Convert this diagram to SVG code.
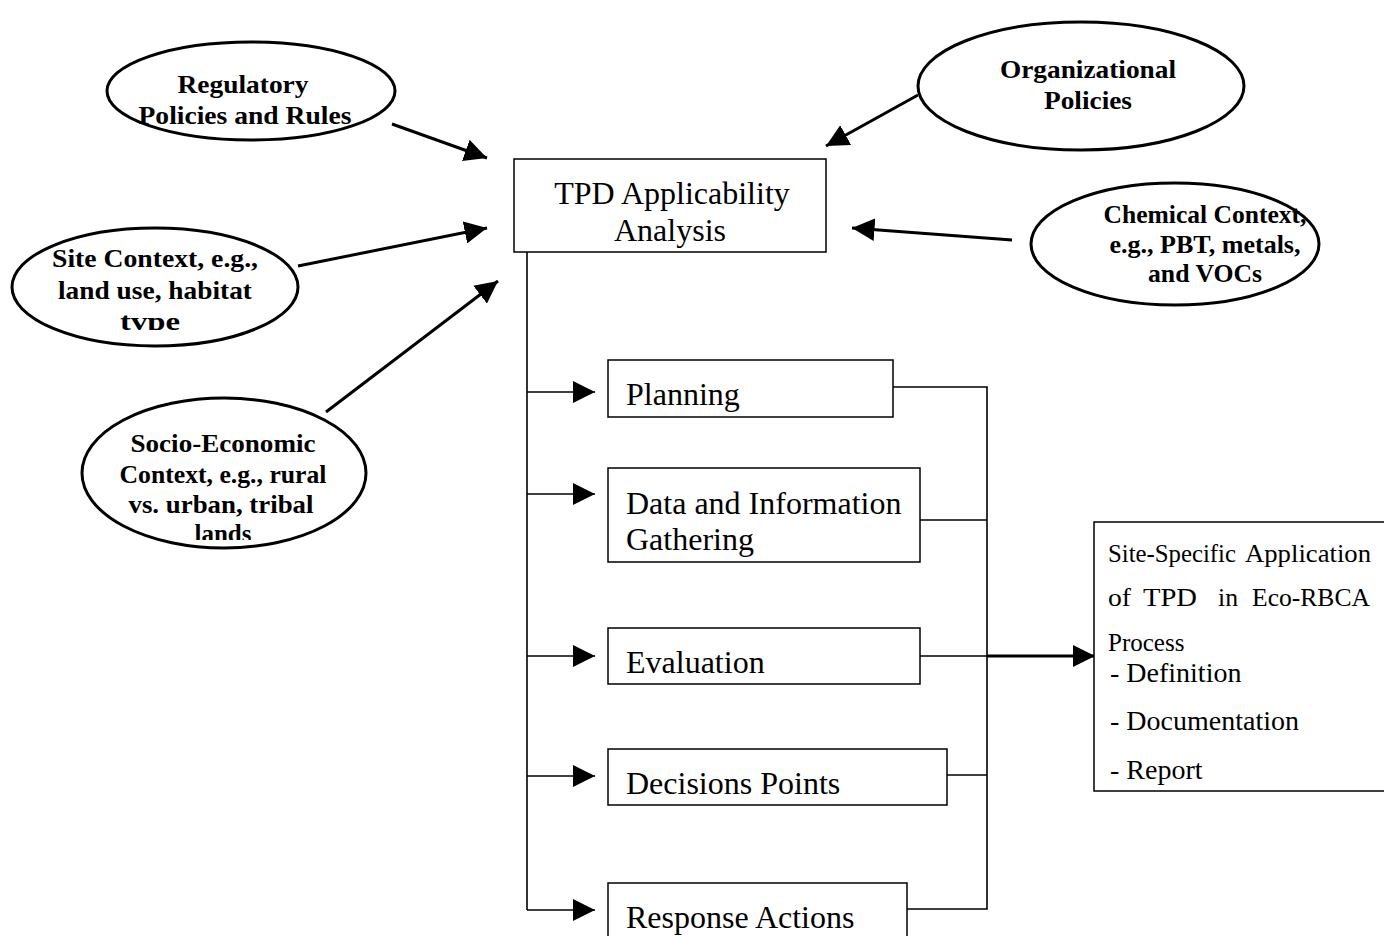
<svg xmlns="http://www.w3.org/2000/svg" width="1384" height="936" viewBox="0 0 1384 936">
<style>
.bg{fill:#fff}
.ell{fill:#fff;stroke:#000;stroke-width:3}
.box{fill:#fff;stroke:#000;stroke-width:1.5}
.bt{font-family:"Liberation Serif",serif;font-weight:bold;font-size:26px;fill:#000;text-anchor:middle}
.nt{font-family:"Liberation Serif",serif;font-size:32px;fill:#000}
.st{font-family:"Liberation Serif",serif;font-size:25px;fill:#000}
.lt{font-family:"Liberation Serif",serif;font-size:28px;fill:#000}
.thick{stroke:#000;stroke-width:3;fill:none}
.thin{stroke:#000;stroke-width:1.6;fill:none}
</style>
<defs>
<marker id="ah" viewBox="0 0 10 10" refX="10" refY="5" markerWidth="7.5" markerHeight="7.5" markerUnits="strokeWidth" orient="auto">
<path d="M0,0 L10,5 L0,10 z" fill="#000"/>
</marker>
<marker id="ahs" viewBox="0 0 10 10" refX="10" refY="5" markerWidth="14" markerHeight="14" markerUnits="strokeWidth" orient="auto">
<path d="M0,0 L10,5 L0,10 z" fill="#000"/>
</marker>
<clipPath id="c1"><rect x="0" y="200" width="400" height="130"/></clipPath>
<clipPath id="c2"><rect x="0" y="380" width="400" height="160"/></clipPath>
</defs>
<rect class="bg" x="0" y="0" width="1384" height="936"/>

<g id="connectors">
<line class="thick" x1="392" y1="124" x2="487" y2="158" marker-end="url(#ah)"/>
<line class="thick" x1="918" y1="95" x2="826" y2="146" marker-end="url(#ah)"/>
<line class="thick" x1="298" y1="266" x2="487" y2="228" marker-end="url(#ah)"/>
<line class="thick" x1="326" y1="412" x2="498" y2="281" marker-end="url(#ah)"/>
<line class="thick" x1="1012" y1="240" x2="852" y2="228" marker-end="url(#ah)"/>
<line class="thin" x1="527" y1="252" x2="527" y2="910"/>
<line class="thin" x1="527" y1="392" x2="595" y2="392" marker-end="url(#ahs)"/>
<line class="thin" x1="527" y1="494" x2="595" y2="494" marker-end="url(#ahs)"/>
<line class="thin" x1="527" y1="656" x2="595" y2="656" marker-end="url(#ahs)"/>
<line class="thin" x1="527" y1="776" x2="595" y2="776" marker-end="url(#ahs)"/>
<line class="thin" x1="527" y1="910" x2="595" y2="910" marker-end="url(#ahs)"/>
<polyline class="thin" points="893,387 987,387 987,909 907,909"/>
<line class="thin" x1="920" y1="520" x2="987" y2="520"/>
<line class="thin" x1="947" y1="775" x2="987" y2="775"/>
<line class="thin" x1="920" y1="656" x2="987" y2="656"/>
<line class="thick" x1="987" y1="656" x2="1095" y2="656" marker-end="url(#ah)"/>
</g>

<g id="regulatory">
<ellipse class="ell" cx="251" cy="91" rx="144" ry="49"/>
<text class="bt" x="243" y="93" textLength="131" lengthAdjust="spacingAndGlyphs">Regulatory</text>
<text class="bt" x="245" y="124" textLength="213" lengthAdjust="spacingAndGlyphs">Policies and Rules</text>
</g>

<g id="organizational">
<ellipse class="ell" cx="1081" cy="86" rx="163" ry="64"/>
<text class="bt" x="1088" y="78" textLength="176" lengthAdjust="spacingAndGlyphs">Organizational</text>
<text class="bt" x="1088" y="109" textLength="88" lengthAdjust="spacingAndGlyphs">Policies</text>
</g>

<g id="site">
<ellipse class="ell" cx="155" cy="287" rx="143" ry="59"/>
<text class="bt" x="155" y="267" textLength="206" lengthAdjust="spacingAndGlyphs">Site Context, e.g.,</text>
<text class="bt" x="155" y="299" textLength="194" lengthAdjust="spacingAndGlyphs">land use, habitat</text>
<text class="bt" x="150" y="330" textLength="60" lengthAdjust="spacingAndGlyphs" clip-path="url(#c1)">tvpe</text>
</g>

<g id="socio">
<ellipse class="ell" cx="224" cy="473" rx="142" ry="75"/>
<text class="bt" x="223" y="452" textLength="185" lengthAdjust="spacingAndGlyphs">Socio-Economic</text>
<text class="bt" x="223" y="483" textLength="207" lengthAdjust="spacingAndGlyphs">Context, e.g., rural</text>
<text class="bt" x="221" y="513" textLength="185" lengthAdjust="spacingAndGlyphs">vs. urban, tribal</text>
<text class="bt" x="223" y="542" textLength="57" lengthAdjust="spacingAndGlyphs" clip-path="url(#c2)">lands</text>
</g>

<g id="chemical">
<ellipse class="ell" cx="1175" cy="244" rx="144" ry="61"/>
<text class="bt" x="1205" y="223" textLength="203" lengthAdjust="spacingAndGlyphs">Chemical Context,</text>
<text class="bt" x="1205" y="253" textLength="191" lengthAdjust="spacingAndGlyphs">e.g., PBT, metals,</text>
<text class="bt" x="1205" y="282" textLength="114" lengthAdjust="spacingAndGlyphs">and VOCs</text>
</g>

<g id="tpd">
<rect class="box" x="514" y="159" width="312" height="93"/>
<text class="nt" x="672" y="204" text-anchor="middle">TPD Applicability</text>
<text class="nt" x="670" y="241" text-anchor="middle">Analysis</text>
</g>

<g id="planning">
<rect class="box" x="608" y="360" width="285" height="57"/>
<text class="nt" x="626" y="405">Planning</text>
</g>

<g id="data">
<rect class="box" x="608" y="468" width="312" height="94"/>
<text class="nt" x="626" y="514">Data and Information</text>
<text class="nt" x="626" y="550">Gathering</text>
</g>

<g id="evaluation">
<rect class="box" x="608" y="628" width="312" height="56"/>
<text class="nt" x="626" y="673">Evaluation</text>
</g>

<g id="decisions">
<rect class="box" x="608" y="749" width="339" height="56"/>
<text class="nt" x="626" y="794">Decisions Points</text>
</g>

<g id="response">
<rect class="box" x="608" y="883" width="299" height="60"/>
<text class="nt" x="626" y="928">Response Actions</text>
</g>

<g id="sitespecific">
<rect class="box" x="1094" y="522" width="300" height="269"/>
<text class="st" y="562"><tspan x="1108" textLength="128" lengthAdjust="spacingAndGlyphs">Site-Specific</tspan> <tspan x="1245" textLength="126" lengthAdjust="spacingAndGlyphs">Application</tspan></text>
<text class="st" y="606"><tspan x="1108" textLength="23" lengthAdjust="spacingAndGlyphs">of</tspan> <tspan x="1143" textLength="54" lengthAdjust="spacingAndGlyphs">TPD</tspan> <tspan x="1218" textLength="20" lengthAdjust="spacingAndGlyphs">in</tspan> <tspan x="1252" textLength="118" lengthAdjust="spacingAndGlyphs">Eco-RBCA</tspan></text>
<text class="st" x="1108" y="651">Process</text>
<text class="lt" x="1110" y="682">- Definition</text>
<text class="lt" x="1110" y="730">- Documentation</text>
<text class="lt" x="1110" y="779">- Report</text>
</g>
</svg>
